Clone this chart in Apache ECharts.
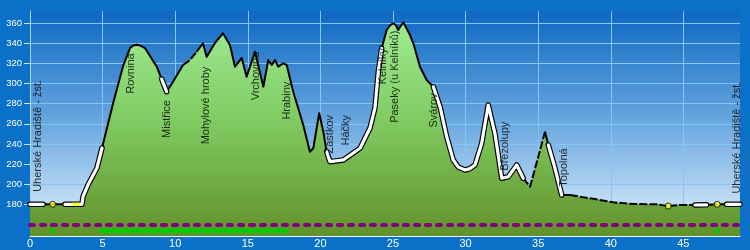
<!DOCTYPE html>
<html><head><meta charset="utf-8">
<script src="https://cdn.jsdelivr.net/npm/echarts@6/dist/echarts.min.js"></script>
<style>html,body{margin:0;padding:0;background:#0b70c7}#c{width:750px;height:250px}</style>
</head><body><div id="c"></div>
<script>
// elevation profile: [km, m]
const profile = [[0,180],[0.9,180],[1.56,180],[2.41,180],[2.9,180],[3.44,180],[3.58,180],[3.65,187.6],[3.99,199.2],[4.61,216.1],[4.96,236],[5.72,280.2],[6.40,316.8],[6.89,335.4],[7.1,337.8],[7.35,338.6],[7.6,337.8],[7.92,335.4],[8.73,316.8],[9.07,304.5],[9.41,292],[9.85,301.9],[10.54,318.5],[11.02,323.5],[11.48,331.7],[11.91,340.1],[12.17,326.8],[12.74,340.4],[13.29,350],[13.77,338.4],[14.12,316.8],[14.58,325.5],[14.92,306.9],[15.15,316.8],[15.50,331.7],[16.07,296.9],[16.41,323.5],[16.65,318.5],[16.87,323.5],[17.10,316.8],[17.44,320.2],[17.68,318.5],[18.13,292],[18.82,258.9],[19.28,232.3],[19.51,235.7],[19.92,270.5],[20.20,252.2],[20.43,232.3],[20.66,222.4],[21.58,224.1],[22.73,235.7],[23.42,255.9],[23.76,275.8],[23.99,311.9],[24.22,335.1],[24.57,353.3],[24.8,358],[25.02,360],[25.2,358],[25.36,353.3],[25.71,361],[26.17,348.3],[26.40,340.1],[26.86,316.8],[27.32,303.6],[27.78,296.9],[28.24,277.1],[28.70,247.2],[29.15,224.1],[29.5,217],[29.96,214.1],[30.3,215.5],[30.65,219.1],[31.11,240.7],[31.56,278.7],[32.02,250.6],[32.49,205.9],[32.94,207.4],[33.52,219.1],[33.97,205.9],[34.44,197.5],[35.01,227.3],[35.47,252.2],[35.70,239],[36.16,215.8],[36.62,189.2],[37.19,189.2],[38.57,186],[40.17,182],[41.53,180.3],[43.16,180],[43.96,178.3],[44.77,179.3],[45.8,179.3],[46.6,179.5],[47.33,180],[47.98,180],[48.9,180]];

// outline pieces of the profile: [fromKm, toKm, dashed]
const outlineRanges = [[0,10.54,false],[10.54,11.48,true],[11.48,33.97,false],[33.97,35.47,true],[35.47,37.19,false],[37.19,48.9,true]];
// white-marked stretches along the profile
const whiteRanges = [[0,0.9],[2.41,4.96],[9.07,9.41],[20.43,24.22],[27.78,33.97],[35.70,36.62],[45.8,46.6],[47.98,48.9]];
const yellowRanges = [[2.9,3.44]];
const yellowDots = [[1.56,180],[43.96,178.3],[47.33,180]];

// bottom strips
const purpleLine = [[0,159.4],[48.9,159.4]];
const greenLevel = 153.7;
const greenRanges = [[1.4,1.7],[4.8,17.8],[47.2,47.5]];

// place names
const placeNames = ['Uherské Hradiště - žst.','Rovnina','Mistřice','Mohylové hroby','Vrchovina','Hrabiny','Zástkov','Háčky','Kelníky','Paseky (u Kelníků)','Svárov','Březolupy','Topolná','Uherské Hradiště - žst.'];
const placeKm = [0.52,6.95,9.45,12.15,15.55,17.7,20.64,21.75,24.28,25.14,27.8,32.7,36.8,48.67];
const placeLabelTop = [303.6,330.1,283.7,316.8,331.7,301.9,268.8,268.8,335.1,352.8,290.4,262.1,235.7,301.9];

const xTicks = [0,5,10,15,20,25,30,35,40,45];
const yTicks = [180,200,220,240,260,280,300,320,340,360];
const xMax = 48.9, yMin = 148.5, yMax = 372.2;

function seg(a, b) { return profile.filter(p => p[0] >= a - 1e-9 && p[0] <= b + 1e-9); }
function lineS(data, style, z) {
  return {type:'line', data, symbol:'none', silent:true, z, lineStyle:style, animation:false};
}

const series = [];
series.push({type:'line', data:profile, symbol:'none', silent:true, z:1, animation:false,
  lineStyle:{width:0, opacity:0},
  areaStyle:{origin:'start', opacity:1, color:{type:'linear',x:0,y:0,x2:0,y2:1,colorStops:[
    {offset:0,color:'#9eea92'},{offset:0.45,color:'#80cc62'},{offset:1,color:'#62922a'}]}}});
outlineRanges.forEach(r => series.push(lineS(seg(r[0], r[1]),
  {color:'#000', width:2, type: r[2] ? [8,2] : 'solid', join:'round'}, 2)));
whiteRanges.forEach(r => series.push(lineS(seg(r[0], r[1]), {color:'#000', width:5.5, cap:'round', join:'round'}, 3)));
whiteRanges.forEach(r => series.push(lineS(seg(r[0], r[1]), {color:'#fff', width:3.2, cap:'round', join:'round'}, 4)));
yellowRanges.forEach(r => series.push(lineS(seg(r[0], r[1]), {color:'#ffff30', width:3.2, cap:'butt'}, 5)));
series.push({type:'scatter', data:yellowDots, symbolSize:6, z:6, silent:true, animation:false,
  itemStyle:{color:'#ffff30', borderColor:'#000', borderWidth:1}});
series.push(lineS(purpleLine, {color:'#800080', width:4, type:[4,7], cap:'round'}, 6));
greenRanges.forEach(r => series.push(lineS([[r[0], greenLevel],[r[1], greenLevel]], {color:'#00cc00', width:4.5}, 6)));
series.push({type:'scatter', z:10, silent:true, animation:false, symbolSize:1,
  itemStyle:{color:'rgba(0,0,0,0)'},
  data: placeNames.map((n, i) => ({name:n, value:[placeKm[i], placeLabelTop[i]]})),
  label:{show:true, position:'inside', rotate:90, align:'right', verticalAlign:'middle',
    formatter: p => p.name, color:'#000', fontSize:11, fontFamily:'Liberation Sans, Arial, sans-serif'}});

const chart = echarts.init(document.getElementById('c'), null, {renderer:'canvas'});
chart.setOption({
  backgroundColor:'#0b70c7',
  animation:false,
  grid:{left:30, right:10, top:11, bottom:14, show:true, borderWidth:0,
    backgroundColor:{type:'linear',x:0,y:0,x2:0,y2:1,colorStops:[
      {offset:0,color:'#0e68c2'},{offset:0.5,color:'#6aa8e0'},{offset:0.86,color:'#c4def4'},{offset:1,color:'#d6eafa'}]}},
  xAxis:{type:'value', min:0, max:xMax,
    axisLine:{show:true, lineStyle:{color:'#e8f4ff', width:1}},
    axisTick:{show:true, inside:true, length:3, customValues:xTicks, lineStyle:{color:'#e8f4ff'}},
    axisLabel:{customValues:xTicks, color:'#fff', fontSize:11, margin:2, fontFamily:'Liberation Sans, Arial, sans-serif'},
    splitLine:{show:true, lineStyle:{color:'#86c6f4', width:1}}},
  yAxis:{type:'value', min:yMin, max:yMax,
    axisLine:{show:true, lineStyle:{color:'#a8d6fa', width:1}},
    axisTick:{show:true, length:6, customValues:yTicks, lineStyle:{color:'#d0e8ff'}},
    axisLabel:{customValues:yTicks, color:'#fff', fontSize:9.5, margin:8, fontFamily:'Liberation Sans, Arial, sans-serif'},
    splitLine:{show:true, lineStyle:{color:'#86c6f4', width:1}}},
  series
});
</script></body></html>
